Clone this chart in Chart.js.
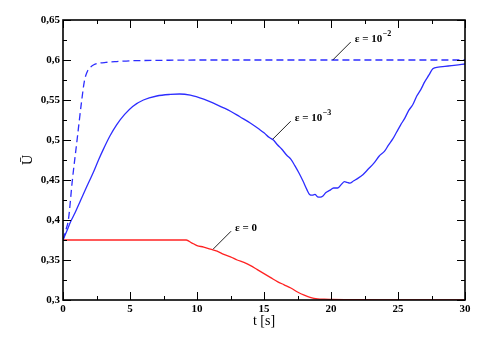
<!DOCTYPE html>
<html>
<head>
<meta charset="utf-8">
<script src="https://cdn.jsdelivr.net/npm/chart.js@4/dist/chart.umd.min.js"></script>
<style>
  html, body { margin: 0; padding: 0; background: #fff; }
  #wrap { width: 483px; height: 340px; }
</style>
</head>
<body>
<div id="wrap"><canvas id="chart" width="483" height="340"></canvas></div>
<script>
// eps = 1e-2 (dashed)
const tDashed = [0, 0.2, 0.4, 0.7, 1.05, 1.4, 1.6, 1.8, 2.0, 2.3, 2.7, 3.2, 4, 5, 7, 10, 15, 20, 25, 30]
const uDashed = [0.375, 0.387, 0.400, 0.450, 0.500, 0.550, 0.574, 0.585, 0.590, 0.594, 0.596, 0.597, 0.598, 0.599, 0.5995, 0.6, 0.6, 0.6, 0.6, 0.6]

// eps = 1e-3
const tSolid = [0, 0.3, 0.6, 0.9, 1.3, 1.7, 2.3, 2.65, 3.0, 3.5, 4.0, 4.6, 5.2, 6.0, 7.0, 8.0, 8.7, 9.5, 10.5, 11.5, 12.5,
  13.2, 14.0, 14.6, 15.0, 15.4, 15.7, 16.0, 16.3, 16.7, 17.0, 17.3, 17.6, 17.9, 18.2, 18.4, 18.6, 18.8, 19.0, 19.2, 19.4,
  19.6, 19.9, 20.2, 20.5, 20.8, 21.0, 21.2, 21.4, 21.7, 22.0, 22.4, 22.8, 23.2, 23.6, 24.0, 24.3, 24.6, 24.9, 25.2, 25.5,
  25.8, 26.1, 26.4, 26.7, 27.0, 27.3, 27.6, 28.0, 28.5, 29.0, 29.5, 30]
const uSolid = [0.375, 0.387, 0.399, 0.409, 0.424, 0.439, 0.461, 0.475, 0.488, 0.505, 0.519, 0.532, 0.542, 0.550, 0.555, 0.557, 0.5575, 0.556, 0.551, 0.544, 0.536,
  0.529, 0.521, 0.514, 0.509, 0.503, 0.500, 0.494, 0.489, 0.481, 0.476, 0.468, 0.459, 0.449, 0.438, 0.432, 0.431, 0.432, 0.429, 0.4285, 0.430,
  0.434, 0.437, 0.440, 0.440, 0.445, 0.448, 0.447, 0.446, 0.449, 0.452, 0.457, 0.464, 0.471, 0.480, 0.486, 0.494, 0.501, 0.510, 0.519, 0.527,
  0.537, 0.544, 0.555, 0.563, 0.573, 0.581, 0.589, 0.591, 0.592, 0.593, 0.594, 0.595]

// eps = 0
const tZero = [0, 9.2, 9.6, 10.0, 10.5, 11.0, 11.5, 12.0, 12.5, 13.0, 13.5, 14.0, 14.5, 15.0, 15.5, 16.0, 16.5, 17.0, 17.5, 18.0,
  18.5, 19.0, 19.5, 20, 21, 22, 24, 26, 30]
const uZero = [0.375, 0.375, 0.3715, 0.368, 0.3662, 0.3635, 0.361, 0.357, 0.354, 0.350, 0.347, 0.343, 0.338, 0.333, 0.328, 0.323, 0.319, 0.315, 0.310, 0.306,
  0.303, 0.3015, 0.301, 0.3008, 0.3005, 0.3003, 0.3001, 0.3, 0.3]

const xTicks = [0, 5, 10, 15, 20, 25, 30]
const yTicks = [0.3, 0.35, 0.4, 0.45, 0.5, 0.55, 0.6, 0.65]
const yTickLabels = ['0,3', '0,35', '0,4', '0,45', '0,5', '0,55', '0,6', '0,65']

const curveLabels = [
  {text: 'ε = 10', sup: '−2', t: 20.13, u: 0.6},
  {text: 'ε = 10', sup: '−3', t: 15.65, u: 0.501},
  {text: 'ε = 0', sup: '', t: 11.2, u: 0.3635}
]

const BLUE = 'rgb(45,45,255)'
const RED = 'rgb(255,35,35)'
const SERIF = '"Liberation Serif", "Times New Roman", serif'

const pts = (ts, us) => ts.map((t, i) => ({x: t, y: us[i]}))

// frame with inward major/minor ticks on all four sides, plus leader-line labels
const framePlugin = {
  id: 'frame',
  afterDatasetsDraw(chart) {
    const {ctx, chartArea: a, scales: {x, y}} = chart
    ctx.save()
    ctx.strokeStyle = '#000'
    ctx.lineWidth = 1
    const tick = (x1, y1, x2, y2) => {
      ctx.beginPath(); ctx.moveTo(x1, y1); ctx.lineTo(x2, y2); ctx.stroke()
    }
    for (let i = 0; i < xTicks.length; i++) {
      const px = Math.round(x.getPixelForValue(xTicks[i])) + 0.5
      tick(px, a.bottom, px, a.bottom - 8)
      tick(px, a.top, px, a.top + 8)
      if (i < xTicks.length - 1) {
        const mx = Math.round(x.getPixelForValue((xTicks[i] + xTicks[i + 1]) / 2)) + 0.5
        tick(mx, a.bottom, mx, a.bottom - 4)
        tick(mx, a.top, mx, a.top + 4)
      }
    }
    for (let i = 0; i < yTicks.length; i++) {
      const py = Math.round(y.getPixelForValue(yTicks[i])) + 0.5
      tick(a.left, py, a.left + 8, py)
      tick(a.right, py, a.right - 8, py)
      if (i < yTicks.length - 1) {
        const my = Math.round(y.getPixelForValue((yTicks[i] + yTicks[i + 1]) / 2)) + 0.5
        tick(a.left, my, a.left + 4, my)
        tick(a.right, my, a.right - 4, my)
      }
    }
    ctx.lineWidth = 1.6
    ctx.strokeRect(a.left, a.top, a.right - a.left, a.bottom - a.top)

    // labels with leader lines
    ctx.lineWidth = 1
    ctx.strokeStyle = '#222'
    ctx.fillStyle = '#000'
    ctx.textBaseline = 'middle'
    curveLabels.forEach(l => {
      const px = x.getPixelForValue(l.t)
      const py = y.getPixelForValue(l.u)
      const ex = px + 18, ey = py - 18
      tick(px, py, ex, ey)
      ctx.font = 'bold 11px ' + SERIF
      ctx.textAlign = 'left'
      ctx.fillText(l.text, ex + 4, ey - 3)
      if (l.sup) {
        const w = ctx.measureText(l.text).width
        ctx.font = 'bold 8px ' + SERIF
        ctx.fillText(l.sup, ex + 4 + w + 0.5, ey - 8)
      }
    })
    ctx.restore()
  }
}

const ctx = document.getElementById('chart').getContext('2d')
new Chart(ctx, {
  type: 'line',
  data: {
    datasets: [
      {
        data: pts(tDashed, uDashed),
        borderColor: BLUE,
        borderWidth: 1.3,
        borderDash: [7, 4],
        cubicInterpolationMode: 'monotone'
      },
      {
        data: pts(tSolid, uSolid),
        borderColor: BLUE,
        borderWidth: 1.3,
        cubicInterpolationMode: 'monotone'
      },
      {
        data: pts(tZero, uZero),
        borderColor: RED,
        borderWidth: 1.3,
        cubicInterpolationMode: 'monotone'
      }
    ]
  },
  options: {
    responsive: false,
    animation: false,
    elements: {point: {radius: 0}},
    plugins: {legend: {display: false}, tooltip: {enabled: false}},
    layout: {padding: {left: 0, top: 20, right: 18, bottom: 0}},
    scales: {
      x: {
        type: 'linear',
        min: 0,
        max: 30,
        grid: {display: false, drawTicks: false},
        border: {display: false},
        afterFit: s => { s.height = 40 },
        afterBuildTicks: s => { s.ticks = xTicks.map(v => ({value: v})) },
        ticks: {
          padding: 3,
          color: '#000',
          font: {family: SERIF, size: 11, weight: 'bold'},
          maxRotation: 0,
          callback: v => String(v)
        },
        title: {
          display: true,
          text: 't [s]',
          color: '#000',
          font: {family: SERIF, size: 14},
          padding: {top: 0, bottom: 10}
        }
      },
      y: {
        type: 'linear',
        min: 0.3,
        max: 0.65,
        grid: {display: false, drawTicks: false},
        border: {display: false},
        afterFit: s => { s.width = 63 },
        afterBuildTicks: s => { s.ticks = yTicks.map(v => ({value: v})) },
        ticks: {
          padding: 3,
          color: '#000',
          font: {family: SERIF, size: 11, weight: 'bold'},
          callback: (v, i) => yTickLabels[i]
        },
        title: {
          display: true,
          text: 'Ū',
          color: '#000',
          font: {family: SERIF, size: 14},
          padding: {top: 20, bottom: 0}
        }
      }
    }
  },
  plugins: [framePlugin]
})
</script>
</body>
</html>
